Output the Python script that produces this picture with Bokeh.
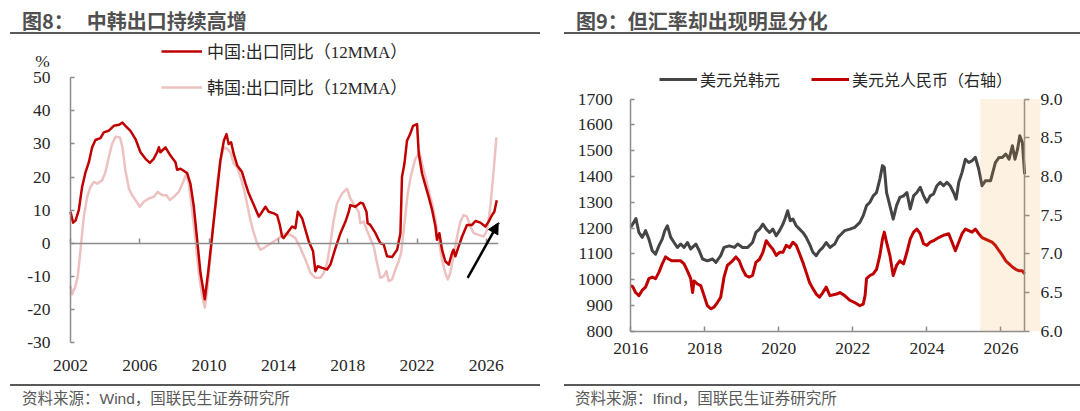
from bokeh.embed import file_html
from bokeh.resources import INLINE
from bokeh.layouts import row, column
from bokeh.plotting import figure
from bokeh.models import (Range1d, LinearAxis, FixedTicker, Legend, LegendItem, Label,
                          BoxAnnotation, Arrow, NormalHead, CustomJSTickFormatter, Div)

# ---------------- 图8 data: export yoy, 12MMA (%) ----------------
cn_year = [2002.00, 2002.15, 2002.29, 2002.48, 2002.67, 2002.87, 2003.06, 2003.25, 2003.44, 2003.73,
           2003.92, 2004.20, 2004.50, 2004.80, 2005.00, 2005.17, 2005.46, 2005.75, 2006.04, 2006.33,
           2006.58, 2006.80, 2007.00, 2007.10, 2007.19, 2007.48, 2007.77, 2008.06, 2008.15, 2008.35,
           2008.73, 2008.92, 2009.12, 2009.31, 2009.50, 2009.75, 2009.94, 2010.17, 2010.42, 2010.65,
           2010.85, 2011.00, 2011.13, 2011.27, 2011.42, 2011.62, 2011.90, 2012.10, 2012.29, 2012.58,
           2012.87, 2013.06, 2013.25, 2013.44, 2013.73, 2013.92, 2014.08, 2014.21, 2014.30, 2014.50,
           2014.79, 2014.98, 2015.12, 2015.37, 2015.56, 2015.75, 2016.00, 2016.13, 2016.27, 2016.52,
           2016.81, 2017.00, 2017.29, 2017.58, 2017.87, 2018.06, 2018.15, 2018.44, 2018.73, 2018.88,
           2019.08, 2019.15, 2019.30, 2019.60, 2019.88, 2020.08, 2020.27, 2020.56, 2020.85, 2021.04,
           2021.13, 2021.27, 2021.42, 2021.60, 2021.77, 2022.00, 2022.10, 2022.29, 2022.48, 2022.67,
           2022.87, 2023.06, 2023.15, 2023.29, 2023.44, 2023.63, 2023.83, 2024.02, 2024.10, 2024.21,
           2024.40, 2024.60, 2024.88, 2025.17, 2025.37, 2025.65, 2025.94, 2026.13, 2026.33, 2026.46,
           2026.60]
cn_export = [9.5, 6.2, 6.8, 10.0, 17.0, 21.5, 24.5, 29.0, 31.2, 31.8,
             33.5, 34.0, 35.5, 35.8, 36.5, 35.5, 34.0, 31.5, 27.5, 25.5,
             24.3, 25.5, 27.5, 29.0, 27.5, 29.0, 26.5, 24.5, 22.2, 22.5,
             21.2, 18.0, 11.0, 1.0, -9.0, -17.0, -9.0, 2.0, 14.0, 25.0,
             31.0, 33.0, 30.0, 30.5, 27.0, 23.5, 21.5, 18.0, 15.0, 11.5,
             8.0, 9.5, 11.0, 9.5, 9.0, 8.5, 5.5, 2.0, 1.5, 3.0,
             5.0, 4.5, 9.5, 7.5, 4.0, 0.5, -2.5, -8.5, -7.0, -7.5,
             -8.0, -6.5, -1.5, 3.0, 6.5, 9.5, 11.5, 11.0, 12.2, 12.0,
             9.5, 6.0, 5.5, 3.0, 0.0, -0.5, -4.0, -4.2, -2.0, 3.0,
             20.0, 24.0, 31.0, 33.0, 35.5, 36.0, 27.0, 21.0, 17.5, 14.0,
             10.0, 5.0, 1.0, 3.0, -2.0, -5.5, -6.5, -3.0, -2.0, -4.0,
             -1.0, 2.0, 5.5, 5.5, 6.7, 6.2, 5.0, 6.5, 8.5, 9.5,
             13.0]

kr_year = [2002.00, 2002.10, 2002.29, 2002.42, 2002.58, 2002.77, 2002.96, 2003.15, 2003.35, 2003.54,
           2003.83, 2004.02, 2004.21, 2004.40, 2004.60, 2004.85, 2005.00, 2005.17, 2005.37, 2005.56,
           2005.75, 2006.00, 2006.23, 2006.52, 2006.80, 2007.04, 2007.29, 2007.54, 2007.73, 2007.96,
           2008.25, 2008.50, 2008.69, 2008.83, 2009.02, 2009.21, 2009.40, 2009.60, 2009.75, 2009.88,
           2010.08, 2010.27, 2010.46, 2010.65, 2010.85, 2011.04, 2011.23, 2011.42, 2011.62, 2011.81,
           2012.00, 2012.19, 2012.38, 2012.58, 2012.77, 2012.96, 2013.15, 2013.44, 2013.73, 2014.02,
           2014.35, 2014.69, 2014.98, 2015.27, 2015.56, 2015.85, 2016.13, 2016.42, 2016.62, 2016.81,
           2017.00, 2017.19, 2017.38, 2017.67, 2017.96, 2018.15, 2018.38, 2018.63, 2018.73, 2018.92,
           2019.21, 2019.50, 2019.69, 2019.88, 2020.08, 2020.23, 2020.37, 2020.56, 2020.75, 2020.94,
           2021.08, 2021.27, 2021.46, 2021.65, 2021.90, 2022.15, 2022.29, 2022.48, 2022.67, 2022.87,
           2023.06, 2023.25, 2023.44, 2023.63, 2023.77, 2023.92, 2024.10, 2024.31, 2024.50, 2024.69,
           2024.88, 2025.08, 2025.27, 2025.56, 2025.85, 2026.04, 2026.23, 2026.42, 2026.58]
kr_export = [-13.0, -15.5, -13.0, -10.0, -2.0, 8.0, 14.0, 17.0, 18.5, 18.0,
             19.0, 21.5, 26.0, 30.0, 32.2, 32.0, 29.0, 22.0, 16.5, 14.5,
             13.0, 11.0, 12.5, 13.5, 14.0, 15.5, 14.5, 14.5, 13.0, 14.0,
             15.5, 18.5, 21.0, 18.0, 10.0, 1.0, -9.0, -16.0, -19.5, -15.0,
             -4.0, 7.0, 18.0, 25.0, 29.0, 28.5, 27.5, 24.0, 23.0, 20.0,
             16.5, 12.0, 7.0, 3.0, 0.0, -2.0, -1.5, -0.5, 0.5, 1.5,
             2.8, 2.5, 1.5, -1.5, -5.0, -9.0, -10.5, -10.5, -9.0, -6.0,
             0.0, 7.0, 12.0, 15.0, 16.5, 13.5, 11.5, 9.5, 6.0, 6.5,
             2.5, -1.0, -6.0, -10.5, -10.0, -8.5, -11.5, -11.0, -8.0, -5.5,
             -3.0, 6.0, 15.0, 20.5, 25.5, 27.5, 24.0, 20.0, 16.0, 12.0,
             7.0, 1.0, -5.0, -9.0, -11.0, -9.0, -4.0, 2.0, 6.5, 8.5,
             8.0, 5.0, 3.0, 2.5, 2.0, 4.0, 11.0, 22.0, 32.0]

left_years = [2002, 2006, 2010, 2014, 2018, 2022, 2026]
left_pct_ticks = [-30, -20, -10, 0, 10, 20, 30, 40, 50]
left_pct_labels = ["-30", "-20", "-10", "0", "10", "20", "30", "40", "50"]
arrow_start = (2024.92, -10.5)
arrow_end = (2026.71, 6.2)

# ---------------- 图9 data: exchange rates ----------------
krw_year = [2016.00, 2016.08, 2016.14, 2016.22, 2016.31, 2016.40, 2016.49, 2016.58, 2016.67, 2016.76,
            2016.85, 2016.92, 2016.99, 2017.08, 2017.17, 2017.26, 2017.35, 2017.44, 2017.53, 2017.62,
            2017.76, 2017.85, 2017.94, 2018.07, 2018.21, 2018.30, 2018.43, 2018.52, 2018.66, 2018.80,
            2018.89, 2019.02, 2019.16, 2019.29, 2019.38, 2019.48, 2019.57, 2019.66, 2019.75, 2019.84,
            2019.93, 2020.02, 2020.11, 2020.18, 2020.24, 2020.31, 2020.38, 2020.47, 2020.56, 2020.65,
            2020.74, 2020.83, 2020.92, 2021.01, 2021.10, 2021.19, 2021.28, 2021.38, 2021.51, 2021.60,
            2021.69, 2021.78, 2021.92, 2022.05, 2022.19, 2022.28, 2022.37, 2022.46, 2022.55, 2022.64,
            2022.73, 2022.80, 2022.85, 2022.91, 2023.00, 2023.09, 2023.18, 2023.27, 2023.37, 2023.46,
            2023.55, 2023.64, 2023.73, 2023.82, 2023.91, 2024.00, 2024.09, 2024.18, 2024.27, 2024.36,
            2024.45, 2024.54, 2024.63, 2024.72, 2024.79, 2024.86, 2024.95, 2025.04, 2025.13, 2025.22,
            2025.31, 2025.40, 2025.49, 2025.58, 2025.72, 2025.85, 2025.95, 2026.04, 2026.13, 2026.22,
            2026.31, 2026.38, 2026.45, 2026.51, 2026.58, 2026.64]
krw_rate = [1203, 1222, 1237, 1183, 1164, 1190, 1157, 1112, 1099, 1131,
            1157, 1190, 1209, 1164, 1144, 1125, 1138, 1125, 1144, 1119,
            1138, 1112, 1080, 1073, 1080, 1067, 1093, 1125, 1131, 1125,
            1138, 1125, 1125, 1144, 1183, 1196, 1215, 1196, 1183, 1196,
            1170, 1190, 1215, 1241, 1267, 1228, 1235, 1209, 1196, 1183,
            1164, 1138, 1106, 1093, 1112, 1125, 1144, 1125, 1138, 1164,
            1177, 1190, 1196, 1203, 1222, 1248, 1287, 1300, 1325, 1338,
            1390, 1442, 1435, 1338, 1287, 1235, 1287, 1319, 1325, 1338,
            1274, 1325, 1338, 1358, 1325, 1300, 1325, 1332, 1364, 1377,
            1364, 1377, 1364, 1338, 1312, 1377, 1416, 1467, 1454, 1461,
            1474, 1429, 1364, 1383, 1383, 1454, 1474, 1474, 1487, 1467,
            1519, 1467, 1506, 1558, 1532, 1409]

cny_year = [2016.00, 2016.06, 2016.13, 2016.22, 2016.31, 2016.40, 2016.49, 2016.58, 2016.67, 2016.76,
            2016.85, 2016.94, 2017.03, 2017.12, 2017.21, 2017.35, 2017.44, 2017.53, 2017.62, 2017.67,
            2017.71, 2017.80, 2017.89, 2017.98, 2018.07, 2018.16, 2018.25, 2018.34, 2018.43, 2018.52,
            2018.61, 2018.75, 2018.84, 2018.93, 2019.02, 2019.11, 2019.20, 2019.29, 2019.38, 2019.48,
            2019.57, 2019.66, 2019.75, 2019.84, 2019.93, 2020.02, 2020.11, 2020.20, 2020.29, 2020.38,
            2020.47, 2020.56, 2020.65, 2020.74, 2020.83, 2020.92, 2021.01, 2021.10, 2021.19, 2021.28,
            2021.38, 2021.56, 2021.65, 2021.78, 2021.92, 2022.05, 2022.19, 2022.28, 2022.33, 2022.37,
            2022.46, 2022.55, 2022.64, 2022.73, 2022.80, 2022.85, 2022.91, 2023.00, 2023.09, 2023.18,
            2023.27, 2023.37, 2023.46, 2023.55, 2023.64, 2023.73, 2023.82, 2023.91, 2024.00, 2024.09,
            2024.18, 2024.32, 2024.45, 2024.59, 2024.68, 2024.77, 2024.86, 2024.95, 2025.04, 2025.13,
            2025.22, 2025.31, 2025.40, 2025.49, 2025.58, 2025.67, 2025.76, 2025.85, 2025.95, 2026.04,
            2026.13, 2026.22, 2026.31, 2026.40, 2026.49, 2026.58, 2026.64]
cny_rate = [6.59, 6.57, 6.50, 6.46, 6.53, 6.57, 6.68, 6.70, 6.68, 6.76,
            6.87, 6.96, 6.93, 6.91, 6.91, 6.91, 6.87, 6.78, 6.68, 6.50,
            6.65, 6.61, 6.59, 6.46, 6.33, 6.29, 6.31, 6.37, 6.44, 6.70,
            6.85, 6.91, 6.96, 6.91, 6.80, 6.72, 6.70, 6.72, 6.89, 6.93,
            7.02, 7.17, 7.11, 7.06, 6.98, 7.02, 7.02, 7.11, 7.08, 7.15,
            7.11, 7.00, 6.89, 6.76, 6.63, 6.55, 6.48, 6.44, 6.50, 6.57,
            6.46, 6.48, 6.50, 6.46, 6.40, 6.37, 6.33, 6.35, 6.46, 6.68,
            6.72, 6.74, 6.80, 6.98, 7.19, 7.28, 7.15, 6.98, 6.72, 6.85,
            6.91, 6.87, 7.02, 7.19, 7.28, 7.32, 7.26, 7.13, 7.11, 7.15,
            7.17, 7.21, 7.24, 7.26, 7.15, 7.04, 7.15, 7.26, 7.32, 7.30,
            7.28, 7.32, 7.26, 7.21, 7.19, 7.17, 7.15, 7.11, 7.04, 6.98,
            6.91, 6.87, 6.83, 6.80, 6.78, 6.78, 6.74]

right_years = [2016, 2018, 2020, 2022, 2024, 2026]
krw_ticks = [800, 900, 1000, 1100, 1200, 1300, 1400, 1500, 1600, 1700]
krw_labels = ["800", "900", "1000", "1100", "1200", "1300", "1400", "1500", "1600", "1700"]
cny_ticks = [6.0, 6.5, 7.0, 7.5, 8.0, 8.5, 9.0]
cny_labels = ["6.0", "6.5", "7.0", "7.5", "8.0", "8.5", "9.0"]
shade_span = (2025.44, 2027.06)
last_obs = 2026.64

# ---------------- styling ----------------
SERIF = "'Liberation Serif', 'Noto Sans CJK SC'"
INK = "#262626"
AXIS = "#8c8c8c"
RULE = "#595959"
CN_RED = "#C00000"
KR_PINK = "#EEC1C1"
KRW_GRAY = "#454545"


def head_div(width, rule_left, pad, html):
    box = (f"margin-left:{rule_left}px; width:{width - rule_left}px; height:34px; "
           f"box-sizing:border-box; border-bottom:2px solid {RULE}; padding:9px 0 0 {pad}px; "
           "font-family:'Noto Sans CJK SC'; font-weight:bold; font-size:20px; "
           "line-height:24px; color:#505050; white-space:nowrap;")
    return Div(text=f'<div style="{box}">{html}</div>', width=width, height=34, margin=0)


def foot_div(width, rule_left, pad, html):
    box = (f"margin-left:{rule_left}px; width:{width - rule_left}px; height:27px; "
           f"box-sizing:border-box; border-top:2px solid {RULE}; padding:3px 0 0 {pad}px; "
           "font-family:'Liberation Sans','Noto Sans CJK SC'; font-size:15.5px; "
           "line-height:20px; color:#595959; white-space:nowrap;")
    return Div(text=f'<div style="{box}">{html}</div>', width=width, height=27, margin=0)


def style_axis(ax, ticks, labels, standoff, t_in, t_out, line=True):
    ax.ticker = FixedTicker(ticks=ticks)
    if labels is not None:
        ax.major_label_overrides = dict(zip(ticks, labels))
    ax.major_tick_in = t_in
    ax.major_tick_out = t_out
    ax.minor_tick_line_color = None
    ax.axis_line_color = AXIS if line else None
    ax.axis_line_width = 1.5
    ax.major_tick_line_color = AXIS if line else None
    ax.major_tick_line_width = 1.5
    ax.major_label_standoff = standoff
    ax.major_label_text_font = SERIF
    ax.major_label_text_font_size = "17.5px"
    ax.major_label_text_color = INK


# ---------------- 图8 ----------------
head_l = head_div(540, 10, 12, "图8：<span style='margin-left:13px'>中韩出口持续高增</span>")

# frame runs a little past the axes so the axis labels drawn inside it stay visible
pl = figure(width=548, height=350, title=None,
            x_range=Range1d(1999.115, 2026.7), y_range=Range1d(-33.12, 61.33),
            y_axis_location=None, toolbar_location=None, output_backend="svg",
            outline_line_color=None,
            min_border_left=20, min_border_right=50, min_border_top=6, min_border_bottom=32)
pl.xgrid.visible = False
pl.ygrid.visible = False

r_kr = pl.line(kr_year, kr_export, line_color=KR_PINK, line_width=2.5, line_join="round")
r_cn = pl.line(cn_year, cn_export, line_color=CN_RED, line_width=2.5, line_join="round")

pct_axis = LinearAxis(fixed_location=2002)
style_axis(pct_axis, left_pct_ticks, left_pct_labels, 20, 4, 0)
pct_axis.bounds = (-30, 50)
pl.add_layout(pct_axis, "left")

style_axis(pl.xaxis[0], left_years, None, 7, 0, 0, line=False)

zero_axis = LinearAxis(fixed_location=0, formatter=CustomJSTickFormatter(code="return ''"))
style_axis(zero_axis, left_years, None, 0, 5, 0)
zero_axis.bounds = (2002, 2026.7)
pl.add_layout(zero_axis, "below")

pl.add_layout(Label(x=2002, y=55, x_offset=-28, text="%", text_align="center",
                    text_baseline="middle", text_font=SERIF, text_font_size="17.5px",
                    text_color=INK))

pl.add_layout(Arrow(end=NormalHead(size=11, fill_color="black", line_color="black"),
                    x_start=arrow_start[0], y_start=arrow_start[1],
                    x_end=arrow_end[0], y_end=arrow_end[1],
                    line_color="black", line_width=2.5))

leg_l = Legend(items=[LegendItem(label="中国:出口同比（12MMA）", renderers=[r_cn]),
                      LegendItem(label="韩国:出口同比（12MMA）", renderers=[r_kr])],
               location=(141, 253), orientation="vertical",
               glyph_width=41, glyph_height=20, label_height=20, label_standoff=5,
               spacing=11, padding=0, margin=0, border_line_color=None,
               background_fill_alpha=0, label_text_font=SERIF,
               label_text_font_size="17px", label_text_color=INK)
pl.add_layout(leg_l)

foot_l = foot_div(540, 10, 12, "资料来源：Wind，国联民生证券研究所")

# ---------------- 图9 ----------------
head_r = head_div(532, 15.5, 12.5, "图9：但汇率却出现明显分化")

pr = figure(width=532, height=350, title=None,
            x_range=Range1d(2014.372, 2028.15), y_range=Range1d(667.2, 1849.6),
            x_axis_location=None, y_axis_location=None, toolbar_location=None,
            output_backend="svg", outline_line_color=None,
            min_border_left=22, min_border_right=0, min_border_top=26, min_border_bottom=19)
pr.xgrid.visible = False
pr.ygrid.visible = False
pr.extra_y_ranges = {"cny": Range1d(5.557, 9.498)}

r_krw = pr.line(krw_year, krw_rate, line_color=KRW_GRAY, line_width=3, line_join="round")
r_cny = pr.line(cny_year, cny_rate, line_color=CN_RED, line_width=3, line_join="round",
                y_range_name="cny")

krw_axis = LinearAxis(fixed_location=2016)
style_axis(krw_axis, krw_ticks, krw_labels, 18, 4, 0)
krw_axis.bounds = (800, 1700)
pr.add_layout(krw_axis, "left")

year_axis = LinearAxis(fixed_location=800)
style_axis(year_axis, right_years, None, 12, 5, 0)
year_axis.bounds = (2016, last_obs)
pr.add_layout(year_axis, "below")

cny_axis = LinearAxis(y_range_name="cny", fixed_location=last_obs)
style_axis(cny_axis, cny_ticks, cny_labels, 11, 0, 5)
cny_axis.bounds = (6.0, 9.0)
pr.add_layout(cny_axis, "right")

pr.add_layout(BoxAnnotation(left=shade_span[0], right=shade_span[1], bottom=800, top=1700,
                            fill_color="#F0A03C", fill_alpha=0.15, line_color=None))

leg_r = Legend(items=[LegendItem(label="美元兑韩元", renderers=[r_krw]),
                      LegendItem(label="美元兑人民币（右轴）", renderers=[r_cny])],
               location=(89, 274), orientation="horizontal",
               glyph_width=38, glyph_height=20, label_height=20, label_standoff=3,
               spacing=31, padding=0, margin=0, border_line_color=None,
               background_fill_alpha=0, label_text_font=SERIF,
               label_text_font_size="16px", label_text_color=INK)
pr.add_layout(leg_r)

foot_r = foot_div(532, 15.5, 11.5, "资料来源：Ifind，国联民生证券研究所")

layout = row(column(head_l, pl, foot_l), column(head_r, pr, foot_r))

open("out.html", "w").write(file_html(layout, INLINE))
